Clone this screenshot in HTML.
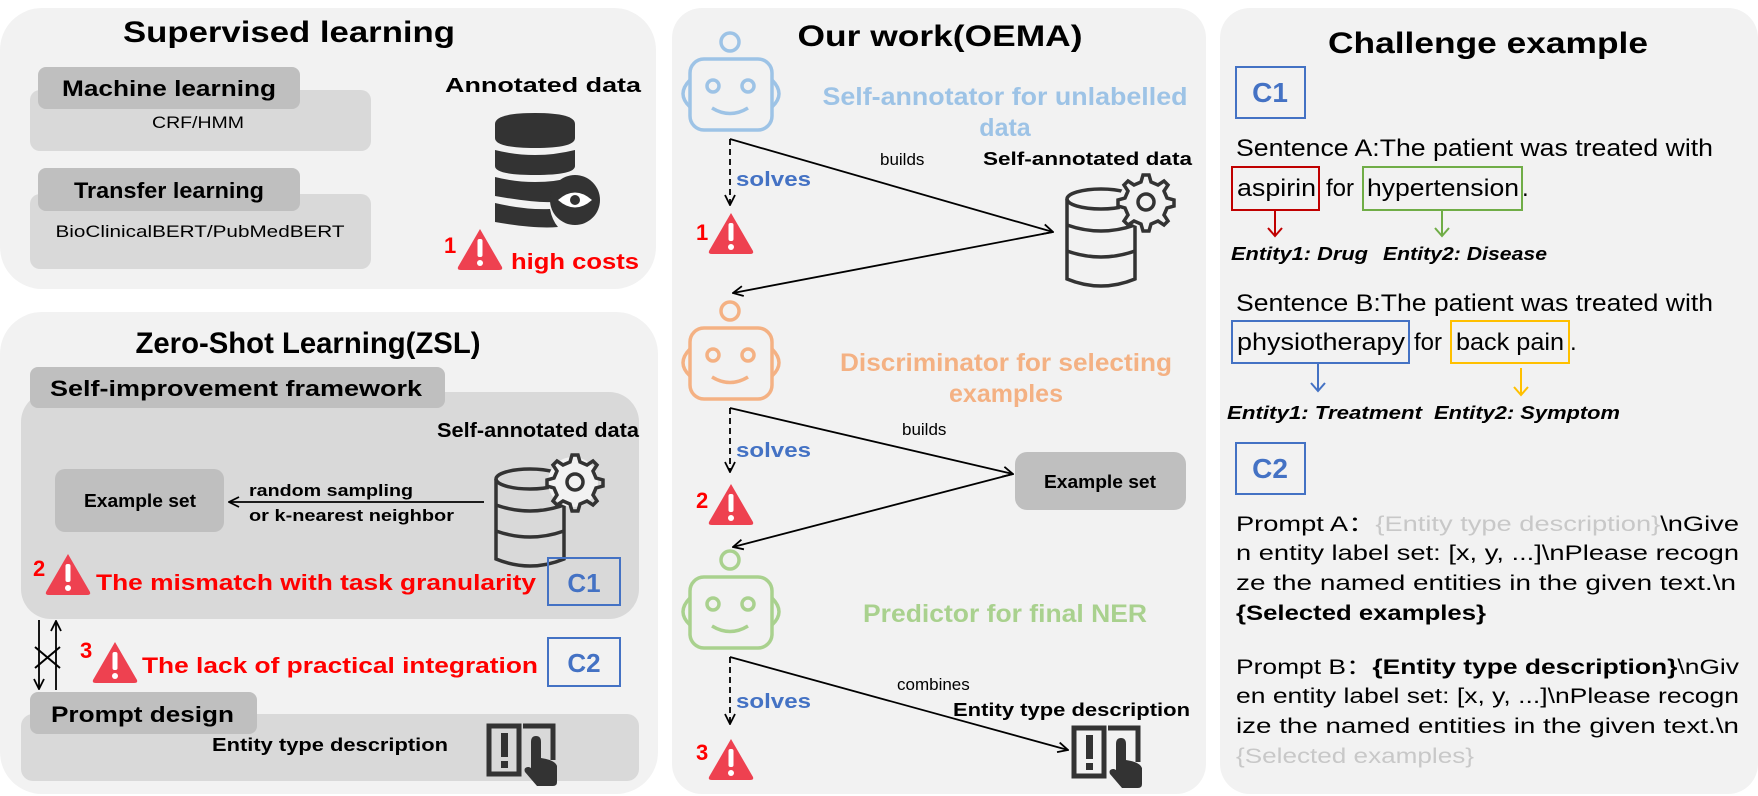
<!DOCTYPE html>
<html><head><meta charset="utf-8"><style>
html,body{margin:0;padding:0;background:#fff;}
svg{display:block;font-family:"Liberation Sans",sans-serif;}
</style></head><body>
<svg width="1758" height="796" viewBox="0 0 1758 796" xmlns="http://www.w3.org/2000/svg">
<defs>
<marker id="ah" viewBox="0 0 12 12" refX="11" refY="6" markerWidth="12" markerHeight="12" markerUnits="userSpaceOnUse" orient="auto">
<path d="M1,1 L11,6 L1,11" fill="none" stroke="#000" stroke-width="1.8"/></marker>
<g id="warn"><path d="M23,2 L45,40 Q46,43 42,43 L4,43 Q0,43 1,40 Z" fill="#ee4150"/><rect x="20.5" y="12" width="5" height="18" rx="2" fill="#fff"/><circle cx="23" cy="36" r="3" fill="#fff"/></g>
<g id="robot" fill="none" stroke-width="3.5">
<circle cx="0" cy="0" r="9"/>
<rect x="-40" y="17" width="82" height="71" rx="14"/>
<path d="M-40,38 Q-54,52 -40,65"/><path d="M42,38 Q56,52 42,65"/>
<circle cx="-17" cy="44" r="6"/><circle cx="18" cy="44" r="6"/>
<path d="M-18,66 Q0,77 18,66"/>
</g>
<g id="dbgear" fill="none" stroke="#333" stroke-width="3.5">
<ellipse cx="35" cy="12" rx="34" ry="10"/>
<path d="M1,12 V92 Q35,106 69,92 V12"/>
<path d="M1,38 Q35,50 69,38"/><path d="M1,64 Q35,76 69,64"/>
<circle cx="78" cy="15" r="25" fill="#f2f2f2" stroke="none"/>
<path d="M78,-12 l5,0 l2,7 l7,3 l6,-4 l4,4 l-4,6 l3,7 l7,2 v6 l-7,2 l-3,7 l4,6 l-4,4 l-6,-4 l-7,3 l-2,7 h-6 l-2,-7 l-7,-3 l-6,4 l-4,-4 l4,-6 l-3,-7 l-7,-2 v-6 l7,-2 l3,-7 l-4,-6 l4,-4 l6,4 l7,-3 l2,-7 z"/>
<circle cx="80" cy="15" r="8"/>
</g>
<g id="book">
<path d="M2,6 H32 V54 H2 Z M36,6 H66 V40" fill="none" stroke="#333" stroke-width="5"/>
<rect x="14" y="13" width="7" height="24" fill="#333"/><rect x="14" y="41" width="7" height="7" fill="#333"/>
<path d="M44,22 Q44,16 49,16 Q54,16 54,22 V38 Q68,40 70,46 V62 Q70,66 66,66 H50 L38,52 Q36,47 42,47 L44,48 Z" fill="#333"/>
</g>
</defs>

<rect x="0" y="8" width="656" height="281" rx="42" fill="#f2f2f2"/>
<rect x="0" y="312" width="658" height="482" rx="42" fill="#f2f2f2"/>
<rect x="672" y="8" width="534" height="786" rx="30" fill="#f2f2f2"/>
<rect x="1220" y="8" width="538" height="786" rx="30" fill="#f2f2f2"/>

<text x="289" y="42" font-size="30" font-weight="bold" text-anchor="middle" textLength="332" lengthAdjust="spacingAndGlyphs">Supervised learning</text>
<rect x="30" y="90" width="341" height="61" rx="10" fill="#d9d9d9"/>
<rect x="38" y="67" width="262" height="42" rx="8" fill="#bfbfbf"/>
<text x="169" y="96" font-size="22" font-weight="bold" text-anchor="middle" textLength="214" lengthAdjust="spacingAndGlyphs">Machine learning</text>
<text x="198" y="128" font-size="17" text-anchor="middle" textLength="92" lengthAdjust="spacingAndGlyphs">CRF/HMM</text>
<rect x="30" y="194" width="341" height="75" rx="10" fill="#d9d9d9"/>
<rect x="38" y="168" width="262" height="43" rx="8" fill="#bfbfbf"/>
<text x="169" y="198" font-size="22" font-weight="bold" text-anchor="middle" textLength="190" lengthAdjust="spacingAndGlyphs">Transfer learning</text>
<text x="200" y="237" font-size="17" text-anchor="middle" textLength="289" lengthAdjust="spacingAndGlyphs">BioClinicalBERT/PubMedBERT</text>
<text x="445" y="92" font-size="20" font-weight="bold" textLength="196" lengthAdjust="spacingAndGlyphs">Annotated data</text>
<g fill="#333">
<path d="M495,124 Q495,113 535,113 Q575,113 575,124 V138 Q575,148 535,148 Q495,148 495,138 Z"/>
<path d="M495,150 Q535,160 575,150 V166 Q575,175 535,175 Q495,175 495,166 Z"/>
<path d="M495,177 Q535,187 575,177 V188 Q555,190 552,202 Q535,203 495,196 Z"/>
<path d="M495,203 Q525,210 550,209 Q552,220 558,227 Q535,229 495,222 Z"/>
<circle cx="575" cy="200" r="25"/>
</g>
<path d="M558,200 Q575,185 592,200 Q575,215 558,200 Z" fill="#fff"/><circle cx="575" cy="200" r="5" fill="#333"/>
<text x="444" y="253" font-size="22" font-weight="bold" fill="#f00">1</text>
<use href="#warn" x="457" y="227"/>
<text x="511" y="269" font-size="22" font-weight="bold" fill="#f00" textLength="128" lengthAdjust="spacingAndGlyphs">high costs</text>

<text x="308" y="353" font-size="30" font-weight="bold" text-anchor="middle" textLength="345" lengthAdjust="spacingAndGlyphs">Zero-Shot Learning(ZSL)</text>
<rect x="21" y="392" width="618" height="227" rx="30" fill="#d9d9d9"/>
<rect x="30" y="367" width="415" height="41" rx="8" fill="#bfbfbf"/>
<text x="50" y="396" font-size="22" font-weight="bold" textLength="372" lengthAdjust="spacingAndGlyphs">Self-improvement framework</text>
<text x="437" y="437" font-size="20" font-weight="bold" textLength="202" lengthAdjust="spacingAndGlyphs">Self-annotated data</text>
<rect x="55" y="469" width="169" height="63" rx="10" fill="#bfbfbf"/>
<text x="140" y="507" font-size="18" font-weight="bold" text-anchor="middle" textLength="112" lengthAdjust="spacingAndGlyphs">Example set</text>
<line x1="484" y1="502" x2="229" y2="502" stroke="#000" stroke-width="1.8" marker-end="url(#ah)"/>
<text x="249" y="496" font-size="17" font-weight="bold" textLength="164" lengthAdjust="spacingAndGlyphs">random sampling</text>
<text x="249" y="521" font-size="17" font-weight="bold" textLength="205" lengthAdjust="spacingAndGlyphs">or k-nearest neighbor</text>
<use href="#dbgear" x="495" y="467"/>
<text x="33" y="576" font-size="22" font-weight="bold" fill="#f00">2</text>
<use href="#warn" x="45" y="552"/>
<text x="96" y="590" font-size="22" font-weight="bold" fill="#f00" textLength="440" lengthAdjust="spacingAndGlyphs">The mismatch with task granularity</text>
<rect x="548" y="558" width="72" height="47" fill="none" stroke="#4472c4" stroke-width="2"/>
<text x="584" y="592" font-size="26" font-weight="bold" fill="#4472c4" text-anchor="middle">C1</text>
<line x1="39" y1="620" x2="39" y2="689" stroke="#000" stroke-width="1.8" marker-end="url(#ah)"/>
<line x1="56" y1="690" x2="56" y2="621" stroke="#000" stroke-width="1.8" marker-end="url(#ah)"/>
<path d="M35,647 L60,668 M35,668 L60,647" stroke="#000" stroke-width="2"/>
<text x="80" y="658" font-size="22" font-weight="bold" fill="#f00">3</text>
<use href="#warn" x="92" y="640"/>
<text x="142" y="673" font-size="22" font-weight="bold" fill="#f00" textLength="396" lengthAdjust="spacingAndGlyphs">The lack of practical integration</text>
<rect x="548" y="638" width="72" height="48" fill="none" stroke="#4472c4" stroke-width="2"/>
<text x="584" y="672" font-size="26" font-weight="bold" fill="#4472c4" text-anchor="middle">C2</text>
<rect x="21" y="714" width="618" height="67" rx="12" fill="#d9d9d9"/>
<rect x="30" y="692" width="227" height="42" rx="8" fill="#bfbfbf"/>
<text x="51" y="722" font-size="22" font-weight="bold" textLength="183" lengthAdjust="spacingAndGlyphs">Prompt design</text>
<text x="212" y="751" font-size="18" font-weight="bold" textLength="236" lengthAdjust="spacingAndGlyphs">Entity type description</text>
<use href="#book" x="487" y="720"/>

<text x="940" y="46" font-size="30" font-weight="bold" text-anchor="middle" textLength="285" lengthAdjust="spacingAndGlyphs">Our work(OEMA)</text>
<use href="#robot" x="730" y="42" stroke="#9dc3e6"/>
<use href="#robot" x="730" y="311" stroke="#f4b183"/>
<use href="#robot" x="730" y="560" stroke="#a9d18e"/>
<g font-size="25" font-weight="bold" text-anchor="middle">
<text x="1005" y="105" fill="#9dc3e6" textLength="365" lengthAdjust="spacingAndGlyphs">Self-annotator for unlabelled</text>
<text x="1005" y="136" fill="#9dc3e6">data</text>
<text x="1006" y="371" fill="#f4b183" textLength="332" lengthAdjust="spacingAndGlyphs">Discriminator for selecting</text>
<text x="1006" y="402" fill="#f4b183">examples</text>
<text x="1005" y="622" fill="#a9d18e" textLength="284" lengthAdjust="spacingAndGlyphs">Predictor for final NER</text>
</g>
<g stroke="#000" stroke-width="1.8" fill="none">
<line x1="730" y1="139" x2="730" y2="205" stroke-dasharray="6,4" marker-end="url(#ah)"/>
<line x1="730" y1="408" x2="730" y2="472" stroke-dasharray="6,4" marker-end="url(#ah)"/>
<line x1="730" y1="657" x2="730" y2="724" stroke-dasharray="6,4" marker-end="url(#ah)"/>
<line x1="730" y1="139" x2="1053" y2="232" marker-end="url(#ah)"/>
<line x1="1053" y1="232" x2="733" y2="293" marker-end="url(#ah)"/>
<line x1="730" y1="408" x2="1013" y2="474" marker-end="url(#ah)"/>
<line x1="1013" y1="474" x2="733" y2="547" marker-end="url(#ah)"/>
<line x1="730" y1="657" x2="1068" y2="750" marker-end="url(#ah)"/>
</g>
<g font-size="20" font-weight="bold" fill="#4472c4">
<text x="736" y="186" textLength="75" lengthAdjust="spacingAndGlyphs">solves</text>
<text x="736" y="457" textLength="75" lengthAdjust="spacingAndGlyphs">solves</text>
<text x="736" y="708" textLength="75" lengthAdjust="spacingAndGlyphs">solves</text>
</g>
<g font-size="22" font-weight="bold" fill="#f00">
<text x="696" y="240">1</text><text x="696" y="508">2</text><text x="696" y="760">3</text>
</g>
<use href="#warn" x="708" y="211"/>
<use href="#warn" x="708" y="482"/>
<use href="#warn" x="708" y="737"/>
<text x="880" y="165" font-size="17">builds</text>
<text x="983" y="165" font-size="18" font-weight="bold" textLength="209" lengthAdjust="spacingAndGlyphs">Self-annotated data</text>
<use href="#dbgear" x="1066" y="187"/>
<text x="902" y="435" font-size="17">builds</text>
<rect x="1015" y="452" width="171" height="58" rx="12" fill="#bfbfbf"/>
<text x="1100" y="488" font-size="18" font-weight="bold" text-anchor="middle" textLength="112" lengthAdjust="spacingAndGlyphs">Example set</text>
<text x="897" y="690" font-size="17">combines</text>
<text x="953" y="716" font-size="18" font-weight="bold" textLength="237" lengthAdjust="spacingAndGlyphs">Entity type description</text>
<use href="#book" x="1072" y="722"/>

<text x="1488" y="53" font-size="30" font-weight="bold" text-anchor="middle" textLength="320" lengthAdjust="spacingAndGlyphs">Challenge example</text>
<rect x="1236" y="67" width="69" height="51" fill="none" stroke="#4472c4" stroke-width="2"/>
<text x="1270" y="102" font-size="28" font-weight="bold" fill="#4472c4" text-anchor="middle">C1</text>
<g font-size="24">
<text x="1236" y="156" textLength="477" lengthAdjust="spacingAndGlyphs">Sentence A:The patient was treated with</text>
<text x="1237" y="196" textLength="79" lengthAdjust="spacingAndGlyphs">aspirin</text>
<text x="1326" y="196">for</text>
<text x="1367" y="196" textLength="152" lengthAdjust="spacingAndGlyphs">hypertension</text>
<text x="1522" y="196">.</text>
<text x="1236" y="311" textLength="477" lengthAdjust="spacingAndGlyphs">Sentence B:The patient was treated with</text>
<text x="1237" y="350" textLength="168" lengthAdjust="spacingAndGlyphs">physiotherapy</text>
<text x="1414" y="350">for</text>
<text x="1456" y="350" textLength="108" lengthAdjust="spacingAndGlyphs">back pain</text>
<text x="1570" y="350">.</text>
</g>
<rect x="1232" y="167" width="87" height="43" fill="none" stroke="#c00000" stroke-width="2"/>
<rect x="1363" y="167" width="159" height="43" fill="none" stroke="#70ad47" stroke-width="2"/>
<rect x="1232" y="321" width="177" height="42" fill="none" stroke="#4472c4" stroke-width="2"/>
<rect x="1451" y="321" width="118" height="42" fill="none" stroke="#ffc000" stroke-width="2"/>
<g stroke-width="2" fill="none">
<path d="M1275,211 V236 M1268,228 L1275,236 L1282,228" stroke="#c00000"/>
<path d="M1442,211 V236 M1435,228 L1442,236 L1449,228" stroke="#70ad47"/>
<path d="M1318,364 V391 M1311,383 L1318,391 L1325,383" stroke="#4472c4"/>
<path d="M1521,368 V395 M1514,387 L1521,395 L1528,387" stroke="#ffc000"/>
</g>
<g font-size="18" font-weight="bold" font-style="italic">
<text x="1231" y="260" textLength="137" lengthAdjust="spacingAndGlyphs">Entity1: Drug</text>
<text x="1383" y="260" textLength="164" lengthAdjust="spacingAndGlyphs">Entity2: Disease</text>
<text x="1227" y="419" textLength="195" lengthAdjust="spacingAndGlyphs">Entity1: Treatment</text>
<text x="1434" y="419" textLength="186" lengthAdjust="spacingAndGlyphs">Entity2: Symptom</text>
</g>
<rect x="1236" y="443" width="69" height="51" fill="none" stroke="#4472c4" stroke-width="2"/>
<text x="1270" y="478" font-size="28" font-weight="bold" fill="#4472c4" text-anchor="middle">C2</text>
<g font-size="21">
<text x="1236" y="531" textLength="503" lengthAdjust="spacingAndGlyphs">Prompt A：<tspan fill="#c8c8c8">{Entity type description}</tspan>\nGive</text>
<text x="1236" y="560" textLength="503" lengthAdjust="spacingAndGlyphs">n entity label set: [x, y, ...]\nPlease recogn</text>
<text x="1236" y="590" textLength="500" lengthAdjust="spacingAndGlyphs">ze the named entities in the given text.\n</text>
<text x="1236" y="620" font-weight="bold" textLength="250" lengthAdjust="spacingAndGlyphs">{Selected examples}</text>
<text x="1236" y="674" textLength="503" lengthAdjust="spacingAndGlyphs">Prompt B：<tspan font-weight="bold">{Entity type description}</tspan>\nGiv</text>
<text x="1236" y="703" textLength="503" lengthAdjust="spacingAndGlyphs">en entity label set: [x, y, ...]\nPlease recogn</text>
<text x="1236" y="733" textLength="503" lengthAdjust="spacingAndGlyphs">ize the named entities in the given text.\n</text>
<text x="1236" y="763" fill="#c8c8c8" textLength="238" lengthAdjust="spacingAndGlyphs">{Selected examples}</text>
</g>
</svg>
</body></html>
